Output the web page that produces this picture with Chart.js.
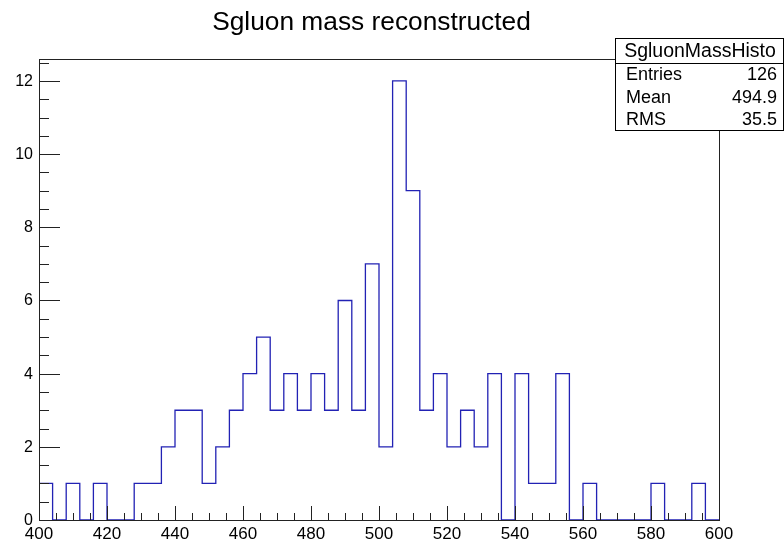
<!DOCTYPE html>
<html>
<head>
<meta charset="utf-8">
<script src="https://cdn.jsdelivr.net/npm/chart.js@4/dist/chart.umd.min.js"></script>
<style>
  html, body { margin: 0; padding: 0; background: #fff; }
  canvas { display: block; }
</style>
</head>
<body>
<canvas id="histo" width="784" height="542"></canvas>
<script>
'use strict';

// histogram: 50 bins of width 4 between 400 and 600
const xMin = 400, xMax = 600, binWidth = 4;
const counts = [
  1, 0, 1, 0, 1, 0, 0, 1, 1, 2,
  3, 3, 1, 2, 3, 4, 5, 3, 4, 3,
  4, 3, 6, 3, 7, 2, 12, 9, 3, 4,
  2, 3, 2, 4, 0, 4, 1, 1, 4, 0,
  1, 0, 0, 0, 0, 1, 0, 0, 1, 0
];
const xTickLabels = [400, 420, 440, 460, 480, 500, 520, 540, 560, 580, 600];
const yTickLabels = [0, 2, 4, 6, 8, 10, 12];
const yMax = 12.6;

const titleText = 'Sgluon mass reconstructed';
const statsName = 'SgluonMassHisto';
const statsRows = [['Entries', '126'], ['Mean', '494.9'], ['RMS', '35.5']];

const FONT = '"Liberation Sans", Arial, Helvetica, sans-serif';
const AXIS = '#222';

// step outline: (left edge, count) per bin, plus closing edge.
// Chart.js 'before' = horizontal at previous level, then vertical.
const points = counts.map((c, i) => ({ x: xMin + i * binWidth, y: c }));
points.push({ x: xMax, y: 0 });

// ROOT style frame, inward ticks, labels, title and stats box
const rootFrame = {
  id: 'rootFrame',
  afterDraw(chart) {
    const { ctx, chartArea: a, scales: { x, y } } = chart;
    ctx.save();
    ctx.strokeStyle = AXIS;
    ctx.lineWidth = 1;

    // frame
    ctx.strokeRect(a.left + 0.5, a.top + 0.5, a.right - a.left, a.bottom - a.top);

    // x ticks: major every 20, minor every 5
    ctx.beginPath();
    for (let v = xMin; v <= xMax; v += 5) {
      const px = Math.round(x.getPixelForValue(v)) + 0.5;
      const len = v % 20 === 0 ? 14 : 7;
      ctx.moveTo(px, a.bottom);
      ctx.lineTo(px, a.bottom - len);
    }
    // y ticks: major every 2, minor every 0.5
    for (let v = 0; v <= yMax + 1e-9; v += 0.5) {
      const py = Math.round(y.getPixelForValue(v)) + 0.5;
      const len = v % 2 === 0 ? 21 : 10;
      ctx.moveTo(a.left, py);
      ctx.lineTo(a.left + len, py);
    }
    ctx.stroke();

    // tick labels
    ctx.fillStyle = '#000';
    ctx.font = '17px ' + FONT;
    ctx.textAlign = 'center';
    ctx.textBaseline = 'alphabetic';
    for (const v of xTickLabels) ctx.fillText(String(v), x.getPixelForValue(v), 539);
    ctx.font = '16px ' + FONT;
    ctx.textAlign = 'right';
    ctx.textBaseline = 'middle';
    for (const v of yTickLabels) ctx.fillText(String(v), 33, y.getPixelForValue(v) + 0.5);

    // title
    ctx.font = '26.3px ' + FONT;
    ctx.textAlign = 'center';
    ctx.textBaseline = 'alphabetic';
    ctx.fillText(titleText, 371.5, 30);

    // stats box
    const bx = 615.5, by = 38.5, bw = 168, bh = 92;
    ctx.fillStyle = '#fff';
    ctx.fillRect(bx, by, bw, bh);
    ctx.strokeStyle = '#000';
    ctx.strokeRect(bx, by, bw, bh);
    ctx.beginPath();
    ctx.moveTo(bx, 63.5);
    ctx.lineTo(bx + bw, 63.5);
    ctx.stroke();
    ctx.fillStyle = '#000';
    ctx.font = '19.5px ' + FONT;
    ctx.textAlign = 'center';
    ctx.fillText(statsName, 700, 57);
    ctx.font = '18px ' + FONT;
    const baselines = [80, 103, 125];
    statsRows.forEach(([k, v], i) => {
      ctx.textAlign = 'left';
      ctx.fillText(k, 626, baselines[i]);
      ctx.textAlign = 'right';
      ctx.fillText(v, 777, baselines[i]);
    });
    ctx.restore();
  }
};

new Chart(document.getElementById('histo'), {
  type: 'line',
  data: {
    datasets: [{
      data: points,
      stepped: 'before',
      borderColor: '#2222b4',
      borderWidth: 1.3,
      pointRadius: 0,
      fill: false,
      tension: 0,
    }],
  },
  options: {
    responsive: false,
    animation: false,
    devicePixelRatio: 1,
    layout: { padding: { left: 39, top: 59, right: 65, bottom: 22 } },
    plugins: { legend: { display: false }, tooltip: { enabled: false }, title: { display: false } },
    scales: {
      x: { type: 'linear', min: xMin, max: xMax, display: false },
      y: { type: 'linear', min: 0, max: yMax, display: false },
    },
  },
  plugins: [rootFrame],
});
</script>
</body>
</html>
